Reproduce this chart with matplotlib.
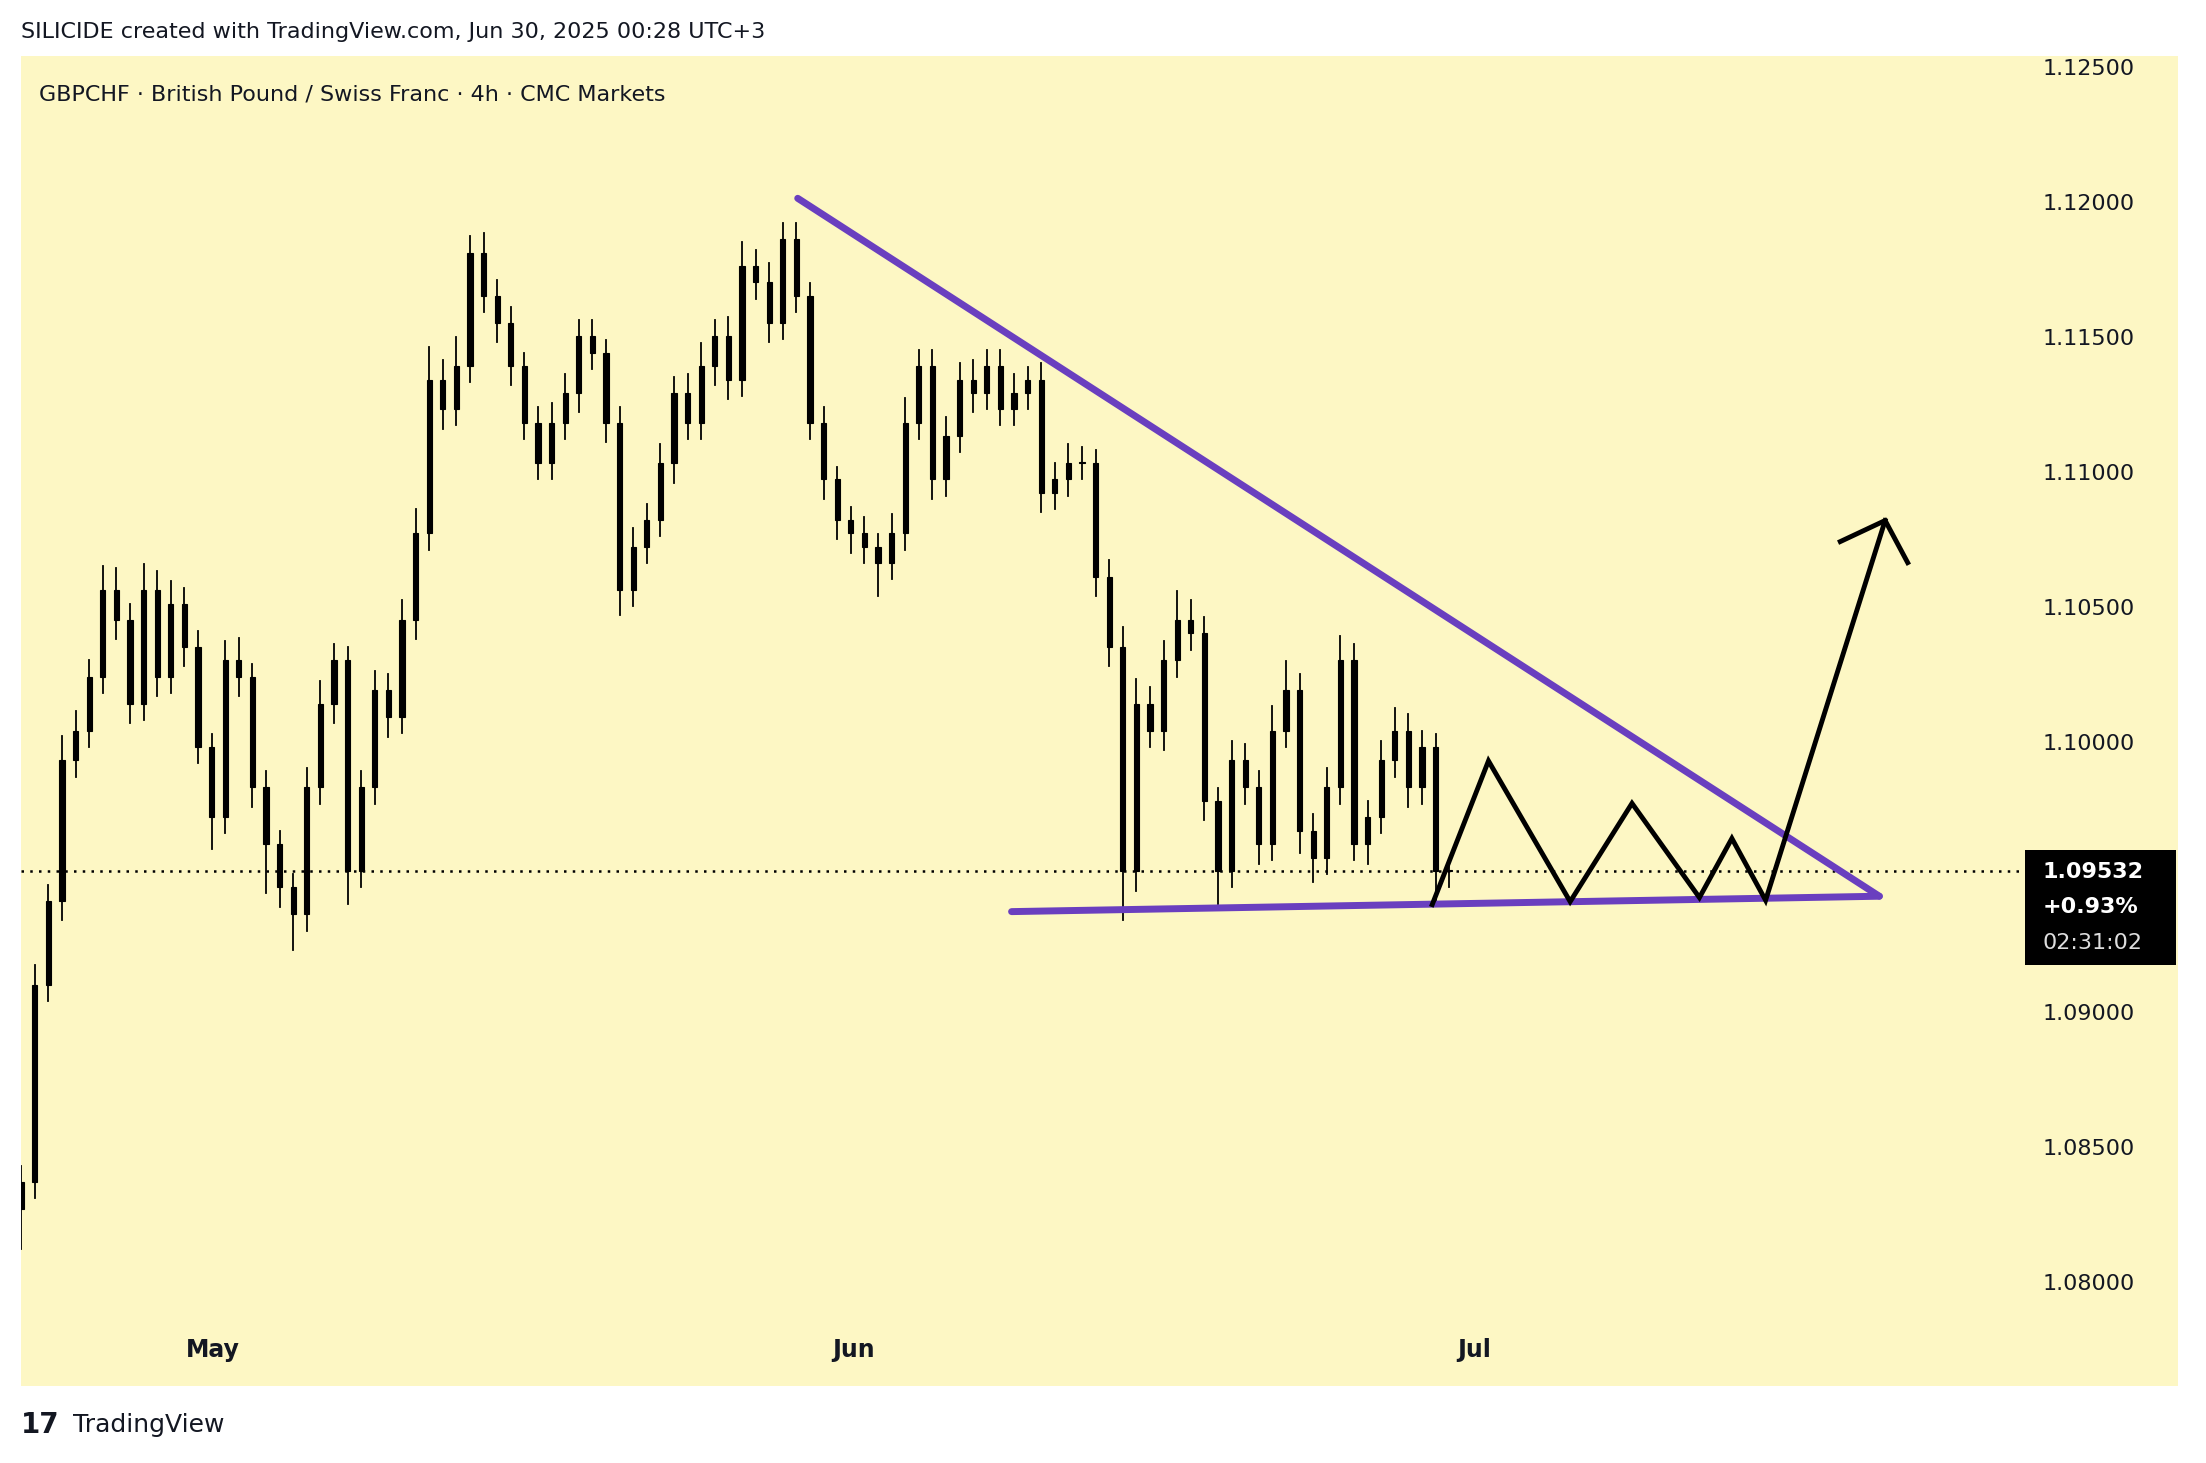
import numpy as np
import matplotlib
matplotlib.use("Agg")
import matplotlib.pyplot as plt
from matplotlib.patches import Rectangle

# ---- data ----
closes = [1.0838,1.0911,1.0942,1.0994,1.1005,1.1025,1.1057,1.1046,1.1015,1.1057,
          1.1025,1.1052,1.1036,1.0999,1.0973,1.1031,1.1025,1.0984,1.0963,1.0947,
          1.0937,1.0984,1.1015,1.1031,1.0953,1.0984,1.1020,1.1010,1.1046,1.1078,
          1.1135,1.1124,1.1140,1.1182,1.1166,1.1156,1.1140,1.1119,1.1104,1.1119,
          1.1130,1.1151,1.1145,1.1119,1.1057,1.1073,1.1083,1.1104,1.1130,1.1119,
          1.1140,1.1151,1.1135,1.1177,1.1171,1.1156,1.1187,1.1166,1.1119,1.1098,
          1.1083,1.1078,1.1073,1.1067,1.1078,1.1119,1.1140,1.1098,1.1114,1.1135,
          1.1130,1.1140,1.1124,1.1130,1.1135,1.1093,1.1098,1.1104,1.1104,1.1062,
          1.1036,1.0953,1.1015,1.1005,1.1031,1.1046,1.1041,1.0979,1.0953,1.0994,
          1.0984,1.0963,1.1005,1.1020,1.0968,1.0958,1.0984,1.1031,1.0963,1.0973,
          1.0994,1.1005,1.0984,1.0999,1.0953,1.09532]
first_open = 1.0828
upper_wick_pips = [10,12,10,15,12,10,15,14,10,16,12,14,10,10,8,12,14,8,10,8,
                   8,12,14,10,8,10,12,10,12,15,20,12,18,10,12,10,10,8,10,12,
                   12,10,10,8,10,12,10,12,10,12,14,10,12,15,10,12,10,10,8,10,
                   8,8,10,8,12,15,10,10,12,10,12,10,10,12,8,10,10,12,10,8,
                   10,12,15,10,12,18,12,10,8,12,10,10,15,18,10,10,12,15,10,10,
                   12,14,10,10,8,6]
lower_wick_pips = [25,10,10,12,10,10,10,12,12,10,12,10,12,10,20,10,12,12,30,12,
                   22,10,10,12,20,10,10,12,10,12,10,12,10,10,10,12,12,10,10,10,
                   10,12,10,12,15,10,10,10,12,10,10,12,12,10,10,12,10,10,10,12,
                   12,12,10,20,10,10,10,12,10,10,12,10,10,10,10,12,10,10,10,12,
                   12,30,12,10,12,10,10,12,20,10,10,12,10,10,14,15,10,10,10,12,
                   10,10,12,10,18,10]
candle_start_day, candle_end_day = -9.25, 59.8  # days relative to May 1

month_labels = ["May", "Jun", "Jul"]
month_days = [0, 31, 61]
price_ticks = [1.080, 1.085, 1.090, 1.095, 1.100, 1.105, 1.110, 1.115, 1.120, 1.125]

last_price = 1.09532
resistance = ([28.3, 80.6], [1.12021, 1.09437])
support = ([38.64, 80.6], [1.09380, 1.09437])
path_days = [58.98, 61.70, 65.65, 68.64, 71.90, 73.47, 75.10, 80.88]
path_prices = [1.09406, 1.09938, 1.09417, 1.09781, 1.09432, 1.09651, 1.09422, 1.10828]
arrow_days = [78.71, 80.88, 81.97]
arrow_prices = [1.10750, 1.10828, 1.10672]

# ---- figure ----
W, H = 2206, 1463
fig = plt.figure(figsize=(W/100, H/100), dpi=100)
fig.patch.set_facecolor("white")
bg = "#fdf7c4"
left, right, top, bottom = 15, 1548, 40, 985
ax = fig.add_axes([left/1568, 1-bottom/1040, (right-left)/1568, (bottom-top)/1040])
ax.set_facecolor(bg)
for s in ax.spines.values():
    s.set_visible(False)
ax.set_xticks([]); ax.set_yticks([])
px_per_day = 14.7
x0 = (left-151)/px_per_day; x1 = (right-151)/px_per_day
ax.set_xlim(x0, x1)
p_per_px = 0.005/96
ax.set_ylim(1.12-(bottom-145)*p_per_px, 1.12+(145-top)*p_per_px)

n = len(closes)
days = np.linspace(candle_start_day, candle_end_day, n)
opens = [first_open] + closes[:-1]
bw = (days[1]-days[0])*0.38
for d, o, c, uw, lw in zip(days, opens, closes, upper_wick_pips, lower_wick_pips):
    hi = max(o, c) + uw*1e-4*0.6
    lo = min(o, c) - lw*1e-4*0.6
    ax.plot([d, d], [lo, hi], color="black", lw=1.3, zorder=2)
    b = max(abs(c-o), 0.00005)
    ax.add_patch(Rectangle((d-bw/2, min(o, c)), bw, b, facecolor="black", edgecolor="black", lw=0.8, zorder=3))

ax.plot([x0, (1435-151)/px_per_day], [last_price]*2, color="black", lw=1.8, ls=(0, (1, 2.5)), zorder=1)

purple = "#6a3fbf"
ax.plot(*resistance, color=purple, lw=5, solid_capstyle="round", zorder=4)
ax.plot(*support, color=purple, lw=5, solid_capstyle="round", zorder=4)
ax.plot(path_days, path_prices, color="black", lw=3.5, solid_joinstyle="miter", zorder=5)
ax.plot(arrow_days, arrow_prices, color="black", lw=3.5, solid_joinstyle="miter", zorder=5)

lab_x = (1452-151)/px_per_day
for p in price_ticks:
    if abs(p-last_price) > 0.0015:
        ax.text(lab_x, p, f"{p:.5f}", fontsize=16, va="center", ha="left", color="#131722")
bx0 = (1439-151)/px_per_day; bx1 = (1547-151)/px_per_day
ytop = 1.12-(604-145)*p_per_px; ybot = 1.12-(686-145)*p_per_px
ax.add_patch(Rectangle((bx0, ybot), bx1-bx0, ytop-ybot, facecolor="black", zorder=6))
ax.text(lab_x, 1.12-(620-145)*p_per_px, "1.09532", color="white", fontsize=16, fontweight="bold", va="center", zorder=7)
ax.text(lab_x, 1.12-(645-145)*p_per_px, "+0.93%", color="white", fontsize=16, fontweight="bold", va="center", zorder=7)
ax.text(lab_x, 1.12-(670-145)*p_per_px, "02:31:02", color="#dddddd", fontsize=16, va="center", zorder=7)

ymonth = 1.12-(960-145)*p_per_px
for m, d in zip(month_labels, month_days):
    ax.text(d, ymonth, m, fontsize=17, fontweight="bold", ha="center", va="center", color="#131722")

ax.text(x0+0.85, 1.12-(67-145)*p_per_px, "GBPCHF · British Pound / Swiss Franc · 4h · CMC Markets",
        fontsize=16, va="center", ha="left", color="#131722")

fig.text(15/1568, 1-23/1040, "SILICIDE created with TradingView.com, Jun 30, 2025 00:28 UTC+3",
         fontsize=16, va="center", ha="left", color="#131722")
fig.text(15/1568, 1-1013/1040, "17", fontsize=20, fontweight="bold", va="center", ha="left", color="#131722")
fig.text(52/1568, 1-1013/1040, "TradingView", fontsize=18, va="center", ha="left", color="#131722")

fig.savefig("out.png", dpi=100, facecolor="white")
